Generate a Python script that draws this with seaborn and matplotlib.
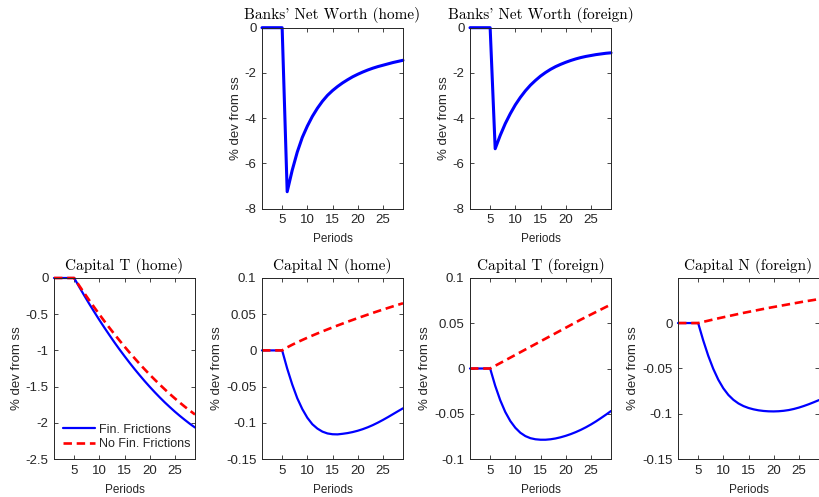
import matplotlib
matplotlib.use("Agg")
import matplotlib.pyplot as plt
from matplotlib.ticker import FuncFormatter
import pandas as pd
import seaborn as sns

sns.set_style("ticks")
plt.rcParams['font.family'] = ['Liberation Sans', 'DejaVu Sans']
plt.rcParams['axes.unicode_minus'] = False

# periods of the impulse responses
periods = list(range(1, 30))

# banks' net worth, fin. frictions only
nw_home = [0, 0, 0, 0, 0, -7.25, -6.3, -5.5, -4.85, -4.35, -3.92, -3.56, -3.25, -2.99,
           -2.78, -2.6, -2.44, -2.3, -2.17, -2.06, -1.96, -1.87, -1.79, -1.72, -1.66,
           -1.6, -1.54, -1.49, -1.44]
nw_foreign = [0, 0, 0, 0, 0, -5.35, -4.76, -4.24, -3.8, -3.41, -3.08, -2.79, -2.54, -2.33,
              -2.14, -1.98, -1.84, -1.72, -1.62, -1.53, -1.45, -1.38, -1.32, -1.27, -1.23,
              -1.19, -1.16, -1.13, -1.11]

# capital T (home)
kt_home_ff = [0, 0, 0, 0, 0, -0.122, -0.241, -0.357, -0.469, -0.579, -0.685, -0.788,
              -0.889, -0.986, -1.079, -1.17, -1.258, -1.342, -1.424, -1.502, -1.577,
              -1.649, -1.718, -1.783, -1.846, -1.905, -1.961, -2.015, -2.065]
kt_home_noff = [0, 0, 0, 0, 0, -0.105, -0.208, -0.308, -0.406, -0.502, -0.596, -0.687,
                -0.776, -0.862, -0.947, -1.029, -1.108, -1.186, -1.261, -1.334, -1.404,
                -1.472, -1.538, -1.602, -1.663, -1.722, -1.779, -1.833, -1.885]

# capital N (home)
kn_home_ff = [0, 0, 0, 0, 0, -0.025, -0.047, -0.066, -0.081, -0.093, -0.102, -0.108,
              -0.1122, -0.1147, -0.1158, -0.116, -0.1152, -0.1142, -0.1128, -0.111, -0.1088,
              -0.1062, -0.1032, -0.0998, -0.0961, -0.0922, -0.0881, -0.084, -0.080]
kn_home_noff = [0, 0, 0, 0, 0, 0.0042, 0.0078, 0.0112, 0.0144, 0.0175, 0.0205, 0.0234,
                0.0262, 0.029, 0.0317, 0.0344, 0.037, 0.0396, 0.0421, 0.0446, 0.047,
                0.0494, 0.0518, 0.0541, 0.0564, 0.0586, 0.0608, 0.063, 0.0651]

# capital T (foreign)
kt_for_ff = [0, 0, 0, 0, 0, -0.019, -0.035, -0.048, -0.058, -0.0655, -0.071, -0.0747,
             -0.077, -0.0782, -0.0787, -0.0787, -0.0782, -0.0773, -0.076, -0.0744,
             -0.0725, -0.0703, -0.0678, -0.065, -0.0619, -0.0585, -0.0548, -0.051, -0.047]
kt_for_noff = [0, 0, 0, 0, 0, 0.003, 0.006, 0.009, 0.012, 0.015, 0.018, 0.021, 0.024,
               0.027, 0.030, 0.033, 0.036, 0.039, 0.042, 0.045, 0.048, 0.051, 0.054,
               0.0568, 0.0596, 0.0624, 0.0652, 0.068, 0.0707]

# capital N (foreign)
kn_for_ff = [0, 0, 0, 0, 0, -0.019, -0.036, -0.0505, -0.0625, -0.072, -0.0793, -0.0847,
             -0.0887, -0.0916, -0.0937, -0.0952, -0.0963, -0.097, -0.0974, -0.0975, -0.0973,
             -0.0968, -0.096, -0.0948, -0.0933, -0.0915, -0.0895, -0.0873, -0.085]
kn_for_noff = [0, 0, 0, 0, 0, 0.0013, 0.0026, 0.0039, 0.0052, 0.0064, 0.0076, 0.0088,
               0.01, 0.0112, 0.0123, 0.0134, 0.0145, 0.0156, 0.0167, 0.0177, 0.0187,
               0.0197, 0.0207, 0.0217, 0.0227, 0.0237, 0.0246, 0.0255, 0.0265]

df = pd.DataFrame({'period': periods,
                   'nw_home': nw_home, 'nw_foreign': nw_foreign,
                   'kt_home_ff': kt_home_ff, 'kt_home_noff': kt_home_noff,
                   'kn_home_ff': kn_home_ff, 'kn_home_noff': kn_home_noff,
                   'kt_for_ff': kt_for_ff, 'kt_for_noff': kt_for_noff,
                   'kn_for_ff': kn_for_ff, 'kn_for_noff': kn_for_noff})

grey = '#262626'
fig = plt.figure(figsize=(8.19, 4.97), dpi=100)

W = 141 / 819
H = 181 / 497
lefts = [54 / 819, 262 / 819, 470 / 819, 678 / 819]
bot_top = 1 - 208.7 / 497
bot_low = 1 - 459 / 497


def style(ax, title, ylim, yticks):
    ax.set_xlim(1, 29)
    ax.set_xticks([5, 10, 15, 20, 25])
    ax.set_ylim(*ylim)
    ax.set_yticks(yticks)
    ax.yaxis.set_major_formatter(FuncFormatter(lambda v, p: '%g' % round(v, 4)))
    ax.tick_params(direction='in', length=3, width=0.6, top=True, right=True,
                   labelsize=9.5, colors=grey, pad=4)
    for s in ax.spines.values():
        s.set_visible(True)
        s.set_color(grey)
        s.set_linewidth(0.7)
    ax.set_title(title, family=['cmr10', 'DejaVu Serif'], fontsize=11, pad=6, color='black')
    ax.set_xlabel('Periods', fontsize=8.5, color=grey, labelpad=5)
    ax.set_ylabel('% dev from ss', fontsize=9.5, color=grey, labelpad=2)


dash = (0, (3.2, 1.8))

# top row: banks' net worth
ax = fig.add_axes([lefts[1], bot_top, W, H])
sns.lineplot(data=df, x='period', y='nw_home', ax=ax, color='#0000ff', linewidth=2.2,
             clip_on=False)
style(ax, "Banks' Net Worth (home)", (-8, 0), [-8, -6, -4, -2, 0])

ax = fig.add_axes([lefts[2], bot_top, W, H])
sns.lineplot(data=df, x='period', y='nw_foreign', ax=ax, color='#0000ff', linewidth=2.2,
             clip_on=False)
style(ax, "Banks' Net Worth (foreign)", (-8, 0), [-8, -6, -4, -2, 0])

# bottom row: capital
panels = [
    ('kt_home_ff', 'kt_home_noff', 'Capital T (home)', (-2.5, 0), [-2.5, -2, -1.5, -1, -0.5, 0]),
    ('kn_home_ff', 'kn_home_noff', 'Capital N (home)', (-0.15, 0.1), [-0.15, -0.1, -0.05, 0, 0.05, 0.1]),
    ('kt_for_ff', 'kt_for_noff', 'Capital T (foreign)', (-0.1, 0.1), [-0.1, -0.05, 0, 0.05, 0.1]),
    ('kn_for_ff', 'kn_for_noff', 'Capital N (foreign)', (-0.15, 0.0497), [-0.15, -0.1, -0.05, 0]),
]
for i, (ff, noff, title, ylim, yt) in enumerate(panels):
    ax = fig.add_axes([lefts[i], bot_low, W, H])
    sns.lineplot(data=df, x='period', y=ff, ax=ax, color='#0000ff', linewidth=1.6,
                 label='Fin. Frictions', clip_on=False)
    sns.lineplot(data=df, x='period', y=noff, ax=ax, color='#ff0000', linewidth=1.9,
                 linestyle=dash, label='No Fin. Frictions', clip_on=False)
    style(ax, title, ylim, yt)
    if i == 0:
        ax.legend(loc='lower left', bbox_to_anchor=(0.0, 0.0), frameon=False,
                  fontsize=9, handlelength=2.6, handletextpad=0.3, labelspacing=0.2,
                  borderaxespad=0.3, labelcolor=grey)
    else:
        ax.get_legend().remove()

fig.savefig('out.png', dpi=100)
